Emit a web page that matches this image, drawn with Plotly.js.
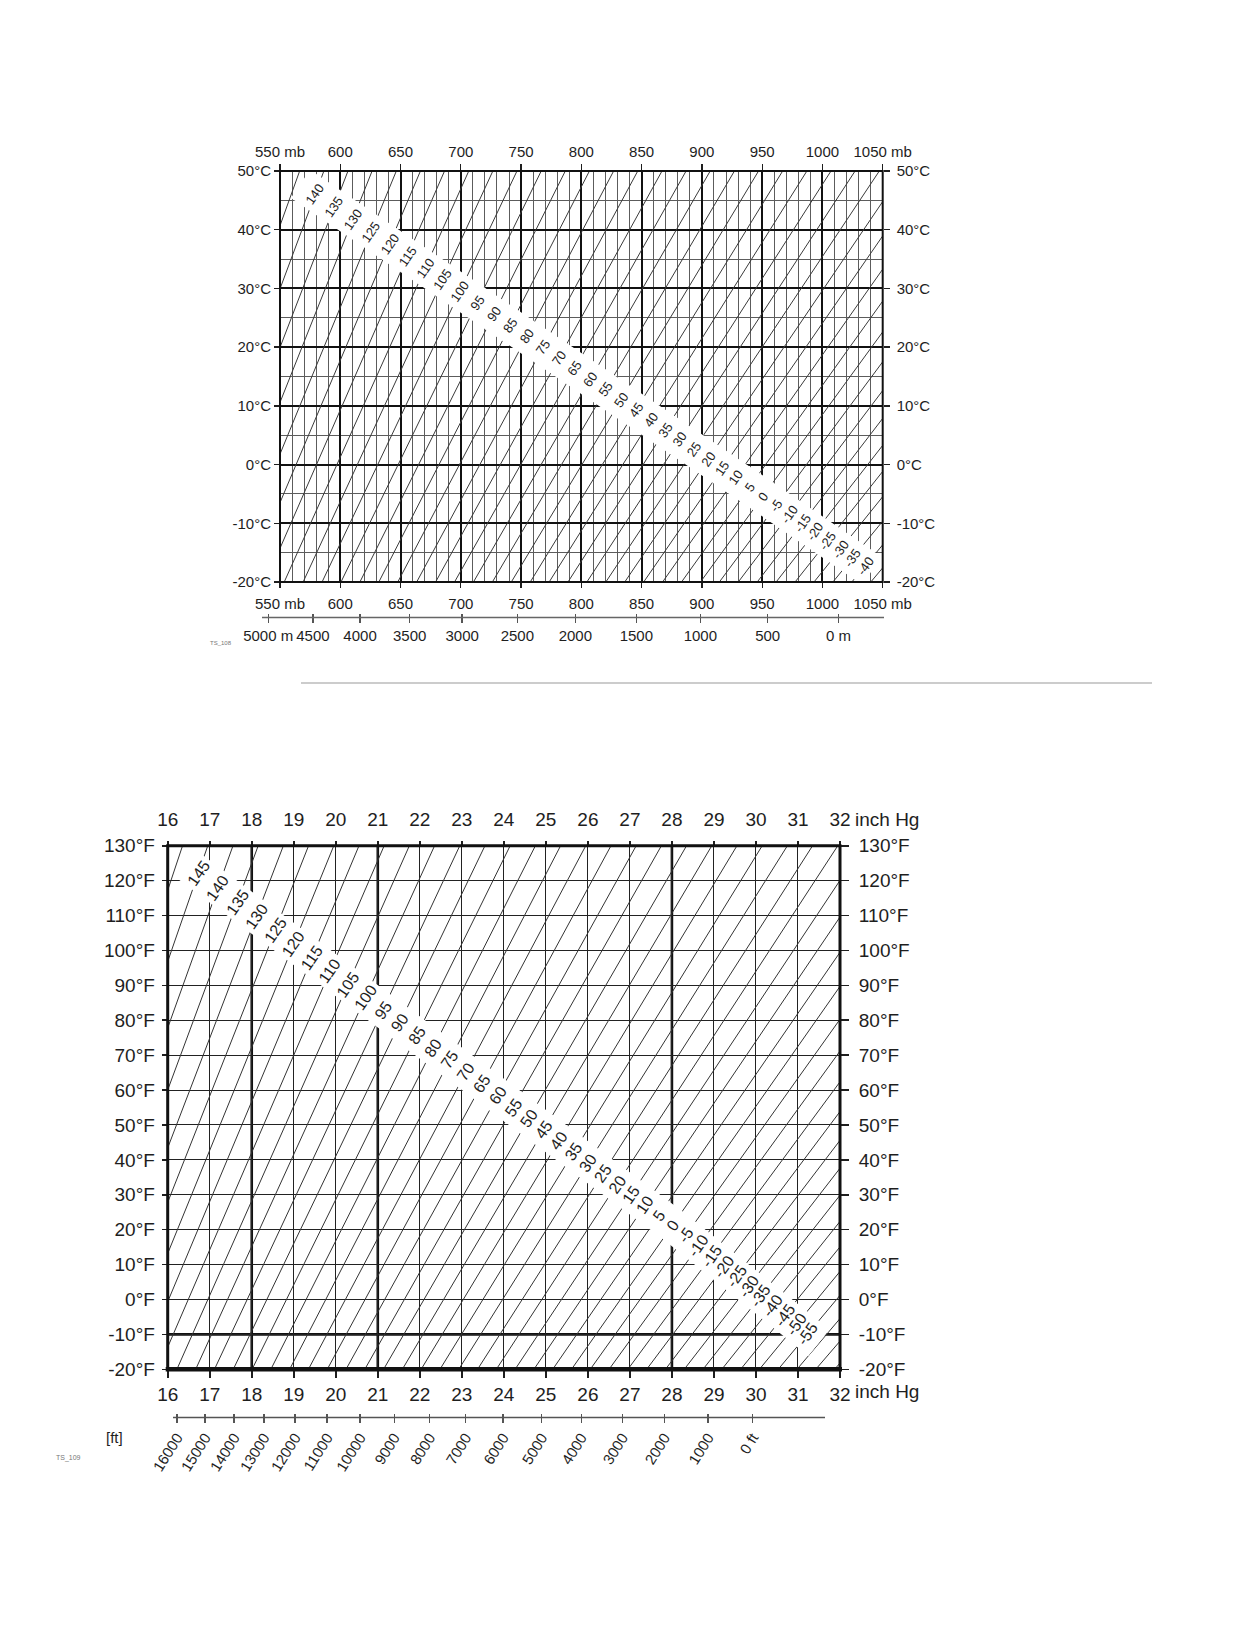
<!DOCTYPE html>
<html><head><meta charset="utf-8">
<script src="https://cdn.plot.ly/plotly-3.0.1.min.js"></script>
<style>html,body{margin:0;padding:0;background:#fff}#chart{width:1239px;height:1647px}</style>
</head><body><div id="chart"></div>
<script>
// ================= DATA =================
// --- upper chart (mb / °C) ---
const mbTicks = [550,600,650,700,750,800,850,900,950,1000,1050];
const mbTickText = ['550 mb','600','650','700','750','800','850','900','950','1000','1050 mb'];
const degCTicks = [-20,-10,0,10,20,30,40,50];
const degCTickText = ['-20°C','-10°C','0°C','10°C','20°C','30°C','40°C','50°C'];
const meterText = ['5000 m','4500','4000','3500','3000','2500','2000','1500','1000','500','0 m'];
const meterAtMb = [540.2,577.3,616.4,657.6,701.1,746.9,795.0,845.6,898.7,954.6,1013.25];
const topTempEnds = [-20, 50];
const topPpm = [-45,-40,-35,-30,-25,-20,-15,-10,-5,0,5,10,15,20,25,30,35,40,45,50,55,60,65,70,75,80,85,90,95,100,105,110,115,120,125,130,135,140,145];
const topMbAtMinus20C = [1040.1,1024.4,1008.7,993.0,977.3,961.6,945.9,930.2,914.5,898.8,883.1,867.4,851.7,836.0,820.3,804.6,788.9,773.3,757.6,741.9,726.2,710.5,694.8,679.1,663.4,647.7,632.0,616.3,600.6,584.9,569.2,553.5,537.8,522.1,506.4,490.7,475.0,459.4,443.7];
const topMbAt50C = [1327.7,1307.6,1287.6,1267.6,1247.5,1227.5,1207.4,1187.4,1167.4,1147.3,1127.3,1107.3,1087.2,1067.2,1047.2,1027.1,1007.1,987.1,967.0,947.0,927.0,906.9,886.9,866.9,846.8,826.8,806.7,786.7,766.7,746.6,726.6,706.6,686.5,666.5,646.5,626.4,606.4,586.4,566.3];
const topLabelPpm = [140,135,130,125,120,115,110,105,100,95,90,85,80,75,70,65,60,55,50,45,40,35,30,25,20,15,10,5,0,-5,-10,-15,-20,-25,-30,-35,-40];

// --- lower chart (inch Hg / °F) ---
const inHgTicks = [16,17,18,19,20,21,22,23,24,25,26,27,28,29,30,31,32];
const inHgTickText = ['16','17','18','19','20','21','22','23','24','25','26','27','28','29','30','31','32'];
const degFTicks = [-20,-10,0,10,20,30,40,50,60,70,80,90,100,110,120,130];
const degFTickText = ['-20°F','-10°F','0°F','10°F','20°F','30°F','40°F','50°F','60°F','70°F','80°F','90°F','100°F','110°F','120°F','130°F'];
const feetText = ['16000','15000','14000','13000','12000','11000','10000','9000','8000','7000','6000','5000','4000','3000','2000','1000','0 ft'];
const feetAtInHg = [16.22,16.89,17.58,18.29,19.03,19.79,20.58,21.39,22.23,23.09,23.98,24.90,25.84,26.82,27.82,28.86,29.92];
const botTempEnds = [-20, 130];
const botPpm = [-70,-65,-60,-55,-50,-45,-40,-35,-30,-25,-20,-15,-10,-5,0,5,10,15,20,25,30,35,40,45,50,55,60,65,70,75,80,85,90,95,100,105,110,115,120,125,130,135,140,145,150];
const botInHgAtMinus20F = [31.871,31.423,30.976,30.529,30.082,29.635,29.188,28.740,28.293,27.846,27.399,26.952,26.504,26.057,25.610,25.163,24.716,24.268,23.821,23.374,22.927,22.480,22.032,21.585,21.138,20.691,20.244,19.797,19.349,18.902,18.455,18.008,17.561,17.113,16.666,16.219,15.772,15.325,14.877,14.430,13.983,13.536,13.089,12.641,12.194];
const botInHgAt130F = [42.744,42.144,41.544,40.944,40.345,39.745,39.145,38.545,37.946,37.346,36.746,36.146,35.547,34.947,34.347,33.747,33.148,32.548,31.948,31.348,30.749,30.149,29.549,28.949,28.349,27.750,27.150,26.550,25.950,25.351,24.751,24.151,23.551,22.952,22.352,21.752,21.152,20.553,19.953,19.353,18.753,18.154,17.554,16.954,16.354];
const botLabelPpm = [145,140,135,130,125,120,115,110,105,100,95,90,85,80,75,70,65,60,55,50,45,40,35,30,25,20,15,10,5,0,-5,-10,-15,-20,-25,-30,-35,-40,-45,-50,-55];

// ================= LAYOUT GEOMETRY =================
const W = 1239, H = 1647;
const FONT = 'Liberation Sans, Arial, Helvetica, sans-serif';
const INK = '#1e1e1e';
const TOP = {left:280, right:882.7, top:171, bottom:582, xr:[550,1050], yr:[-20,50]};
const BOT = {left:167.7, right:840, top:845.7, bottom:1369.3, xr:[16,32], yr:[-20,130]};
// label band centre lines (data coords)
const topBand = [[567,47.8],[951.5,-5.5],[1041,-18.1]];
const botBand = [[16.5,124.2],[28.07,20.8],[31.5,-12.4]];
// meter scale axis gets a slightly wider domain so that "5000 m" (left of 550 mb) can be shown
const METER_LEFT = 250;
const mbPerPx = (TOP.xr[1]-TOP.xr[0])/(TOP.right-TOP.left);

function px(R, x){ return R.left + (x-R.xr[0])/(R.xr[1]-R.xr[0])*(R.right-R.left); }
function py(R, y){ return R.top + (R.yr[1]-y)/(R.yr[1]-R.yr[0])*(R.bottom-R.top); }
const xp = v => v/W, yp = v => 1 - v/H;

function lineTrace(lo, hi, ends, xa, ya, color){
  const x=[], y=[];
  for(let i=0;i<lo.length;i++){ x.push(lo[i],hi[i],null); y.push(ends[0],ends[1],null); }
  return {type:'scatter', mode:'lines', x, y, xaxis:xa, yaxis:ya,
    line:{color:color, width:1}, hoverinfo:'skip', showlegend:false};
}
function intersect(p0,p1,q0,q1){
  const d1=[p1[0]-p0[0],p1[1]-p0[1]], d2=[q1[0]-q0[0],q1[1]-q0[1]];
  const den=d1[0]*d2[1]-d1[1]*d2[0];
  const w=[q0[0]-p0[0],q0[1]-p0[1]];
  const a=(w[0]*d2[1]-w[1]*d2[0])/den;
  const b=(w[0]*d1[1]-w[1]*d1[0])/den;
  return {b, pt:[p0[0]+a*d1[0], p0[1]+a*d1[1]]};
}
function labelAnns(labels, ppm, lo, hi, ends, band, xa, ya, size){
  return labels.map(k=>{
    const i = ppm.indexOf(k);
    const A=[lo[i],ends[0]], B=[hi[i],ends[1]];
    let best=null, bestD=1e9;
    for(let j=0;j<band.length-1;j++){
      const r=intersect(A,B,band[j],band[j+1]);
      const d = r.b<0 ? -r.b : (r.b>1 ? r.b-1 : 0);
      if(d<bestD){bestD=d;best=r;}
    }
    return {x:best.pt[0], y:best.pt[1], xref:xa, yref:ya, text:String(k), showarrow:false,
      textangle:-55, font:{family:FONT, size:size, color:INK}, xanchor:'center', yanchor:'middle'};
  });
}
function bandShape(R, band, half){
  const P = band.map(p=>[px(R,p[0]), py(R,p[1])]);
  const n = P.length, L=[], Rt=[];
  for(let i=0;i<n;i++){
    let nx=0, ny=0;
    const segs=[];
    if(i>0) segs.push([P[i-1],P[i]]);
    if(i<n-1) segs.push([P[i],P[i+1]]);
    segs.forEach(s=>{ const dx=s[1][0]-s[0][0], dy=s[1][1]-s[0][1], l=Math.hypot(dx,dy); nx+=-dy/l; ny+=dx/l; });
    const l=Math.hypot(nx,ny); nx/=l; ny/=l;
    L.push([P[i][0]+nx*half, P[i][1]+ny*half]);
    Rt.push([P[i][0]-nx*half, P[i][1]-ny*half]);
  }
  const pts = L.concat(Rt.reverse());
  const path = 'M ' + pts.map(p=>xp(p[0]).toFixed(5)+','+yp(p[1]).toFixed(5)).join(' L ') + ' Z';
  return {type:'path', xref:'paper', yref:'paper', path, fillcolor:'#ffffff', line:{width:0}, layer:'above'};
}

// ================= TRACES =================
const traces = [
  lineTrace(topMbAtMinus20C, topMbAt50C, topTempEnds, 'x', 'y', '#3a3a3a'),
  lineTrace(botInHgAtMinus20F, botInHgAt130F, botTempEnds, 'x2', 'y2', '#333'),
];
[['x3','y'],['x','y3'],['x5','y6'],['x4','y2'],['x2','y4'],['x6','y2']].forEach(([a,b])=>{
  traces.push({type:'scatter', mode:'lines', x:[null], y:[null], xaxis:a, yaxis:b, hoverinfo:'skip', showlegend:false});
});

// ================= AXES =================
const tf = s => ({family:FONT, size:s, color:INK});
const common = {fixedrange:true, zeroline:false, showline:false, tickmode:'array', ticks:'outside', tickcolor:INK, tickwidth:1.3};
const layout = {
  width:W, height:H, margin:{l:0,r:0,t:0,b:0}, paper_bgcolor:'#ffffff', plot_bgcolor:'rgba(0,0,0,0)',
  showlegend:false, font:{family:FONT, color:INK},
  xaxis: Object.assign({}, common, {domain:[xp(TOP.left), xp(TOP.right)], anchor:'y', range:TOP.xr,
    tickvals:mbTicks, ticktext:mbTickText, ticklen:5, tickfont:tf(15), ticklabelstandoff:3,
    showgrid:true, gridcolor:'#111', gridwidth:2,
    minor:{tickmode:'linear', tick0:550, dtick:10, showgrid:true, gridcolor:'#5c5c5c', gridwidth:1, ticks:''}}),
  yaxis: Object.assign({}, common, {domain:[yp(TOP.bottom), yp(TOP.top)], anchor:'x', range:TOP.yr,
    tickvals:degCTicks, ticktext:degCTickText, ticklen:5, tickfont:tf(15), ticklabelstandoff:0,
    showgrid:true, gridcolor:'#111', gridwidth:2,
    minor:{tickmode:'linear', tick0:-20, dtick:5, showgrid:true, gridcolor:'#5c5c5c', gridwidth:1, ticks:''}}),
  xaxis3: Object.assign({}, common, {overlaying:'x', anchor:'y', side:'top', range:TOP.xr,
    tickvals:mbTicks, ticktext:mbTickText, ticklen:6, tickfont:tf(15), ticklabelstandoff:1, showgrid:false}),
  yaxis3: Object.assign({}, common, {overlaying:'y', anchor:'x', side:'right', range:TOP.yr,
    tickvals:degCTicks, ticktext:degCTickText, ticklen:6, tickfont:tf(15), ticklabelstandoff:4, showgrid:false}),
  // metre scale: own thin strip subplot
  xaxis5: Object.assign({}, common, {domain:[xp(METER_LEFT), xp(TOP.right)], anchor:'y6', side:'bottom',
    range:[TOP.xr[0]-(TOP.left-METER_LEFT)*mbPerPx, TOP.xr[1]],
    tickvals:meterAtMb, ticktext:meterText, ticklen:9, tickcolor:'#555', tickfont:tf(15), ticklabelstandoff:0, showgrid:false}),
  yaxis6: {domain:[yp(613), yp(611)], anchor:'x5', visible:false, showgrid:false, zeroline:false, range:[0,1], fixedrange:true},

  xaxis2: Object.assign({}, common, {domain:[xp(BOT.left), xp(BOT.right)], anchor:'y2', range:BOT.xr,
    tickvals:inHgTicks, ticktext:inHgTickText, ticklen:8, tickwidth:1.6, tickfont:tf(19), ticklabelstandoff:0,
    showgrid:true, gridcolor:'#222', gridwidth:1}),
  yaxis2: Object.assign({}, common, {domain:[yp(BOT.bottom), yp(BOT.top)], anchor:'x2', range:BOT.yr,
    tickvals:degFTicks, ticktext:degFTickText, ticklen:5, tickwidth:1.6, tickfont:tf(19), ticklabelstandoff:3,
    showgrid:true, gridcolor:'#222', gridwidth:1}),
  xaxis4: Object.assign({}, common, {overlaying:'x2', anchor:'y2', side:'top', range:BOT.xr,
    tickvals:inHgTicks, ticktext:inHgTickText, ticklen:4, tickwidth:1.6, tickfont:tf(19), ticklabelstandoff:7, showgrid:false}),
  yaxis4: Object.assign({}, common, {overlaying:'y2', anchor:'x2', side:'right', range:BOT.yr,
    tickvals:degFTicks, ticktext:degFTickText, ticklen:8, tickwidth:1.6, tickfont:tf(19), ticklabelstandoff:6, showgrid:false}),
  xaxis6: Object.assign({}, common, {overlaying:'x2', anchor:'free', position:yp(1413), side:'bottom', range:BOT.xr,
    tickvals:feetAtInHg, ticktext:feetText, ticklen:9, tickcolor:'#555', tickangle:-58, tickfont:tf(15), ticklabelstandoff:0, showgrid:false}),
  shapes: [], annotations: []
};

// thick reference lines of the lower grid (under the thin grid)
[18,21,28].forEach(v=>layout.shapes.push({type:'line', xref:'x2', yref:'y2', x0:v, x1:v, y0:BOT.yr[0], y1:BOT.yr[1], line:{color:'#111', width:2.6}, layer:'below'}));
layout.shapes.push({type:'line', xref:'x2', yref:'y2', x0:BOT.xr[0], x1:BOT.xr[1], y0:-10, y1:-10, line:{color:'#111', width:2.6}, layer:'below'});
// white label bands
layout.shapes.push(bandShape(TOP, topBand, 17));
layout.shapes.push(bandShape(BOT, botBand, 17));
// frames
layout.shapes.push({type:'rect', xref:'paper', yref:'paper', x0:xp(TOP.left), x1:xp(TOP.right), y0:yp(TOP.bottom), y1:yp(TOP.top), line:{color:'#111', width:2}, fillcolor:'rgba(0,0,0,0)', layer:'above'});
layout.shapes.push({type:'rect', xref:'paper', yref:'paper', x0:xp(BOT.left), x1:xp(BOT.right), y0:yp(BOT.bottom), y1:yp(BOT.top), line:{color:'#111', width:3}, fillcolor:'rgba(0,0,0,0)', layer:'above'});
layout.shapes.push({type:'line', xref:'paper', yref:'paper', x0:xp(BOT.left-2), x1:xp(BOT.right+2), y0:yp(BOT.bottom), y1:yp(BOT.bottom), line:{color:'#111', width:4.5}, layer:'above'});
// secondary scale lines (meters, feet)
layout.shapes.push({type:'line', xref:'paper', yref:'paper', x0:xp(262), x1:xp(884), y0:yp(617.5), y1:yp(617.5), line:{color:'#666', width:1.3}});
layout.shapes.push({type:'line', xref:'paper', yref:'paper', x0:xp(173), x1:xp(825), y0:yp(1417.5), y1:yp(1417.5), line:{color:'#555', width:1.3}});
// separator
layout.shapes.push({type:'line', xref:'paper', yref:'paper', x0:xp(301), x1:xp(1152), y0:yp(683), y1:yp(683), line:{color:'#999', width:1}});

// iso-ppm labels
layout.annotations = layout.annotations
  .concat(labelAnns(topLabelPpm, topPpm, topMbAtMinus20C, topMbAt50C, topTempEnds, topBand, 'x', 'y', 13))
  .concat(labelAnns(botLabelPpm, botPpm, botInHgAtMinus20F, botInHgAt130F, botTempEnds, botBand, 'x2', 'y2', 16));
// unit texts and codes
const pa = (x,y,text,size,color,xanchor)=>({x:xp(x), y:yp(y), xref:'paper', yref:'paper', text, showarrow:false,
  font:{family:FONT, size, color:color||INK}, xanchor:xanchor||'left', yanchor:'middle'});
layout.annotations.push(pa(853, 820, 'inch Hg', 19));
layout.annotations.push(pa(853, 1391, 'inch Hg', 19));
layout.annotations.push(pa(104, 1437, '[ft]', 15));
layout.annotations.push(pa(208, 643, 'TS_108', 6, '#777'));
layout.annotations.push(pa(54, 1458, 'TS_109', 7, '#777'));

Plotly.newPlot('chart', traces, layout, {staticPlot:true, displayModeBar:false});
</script>
</body></html>
